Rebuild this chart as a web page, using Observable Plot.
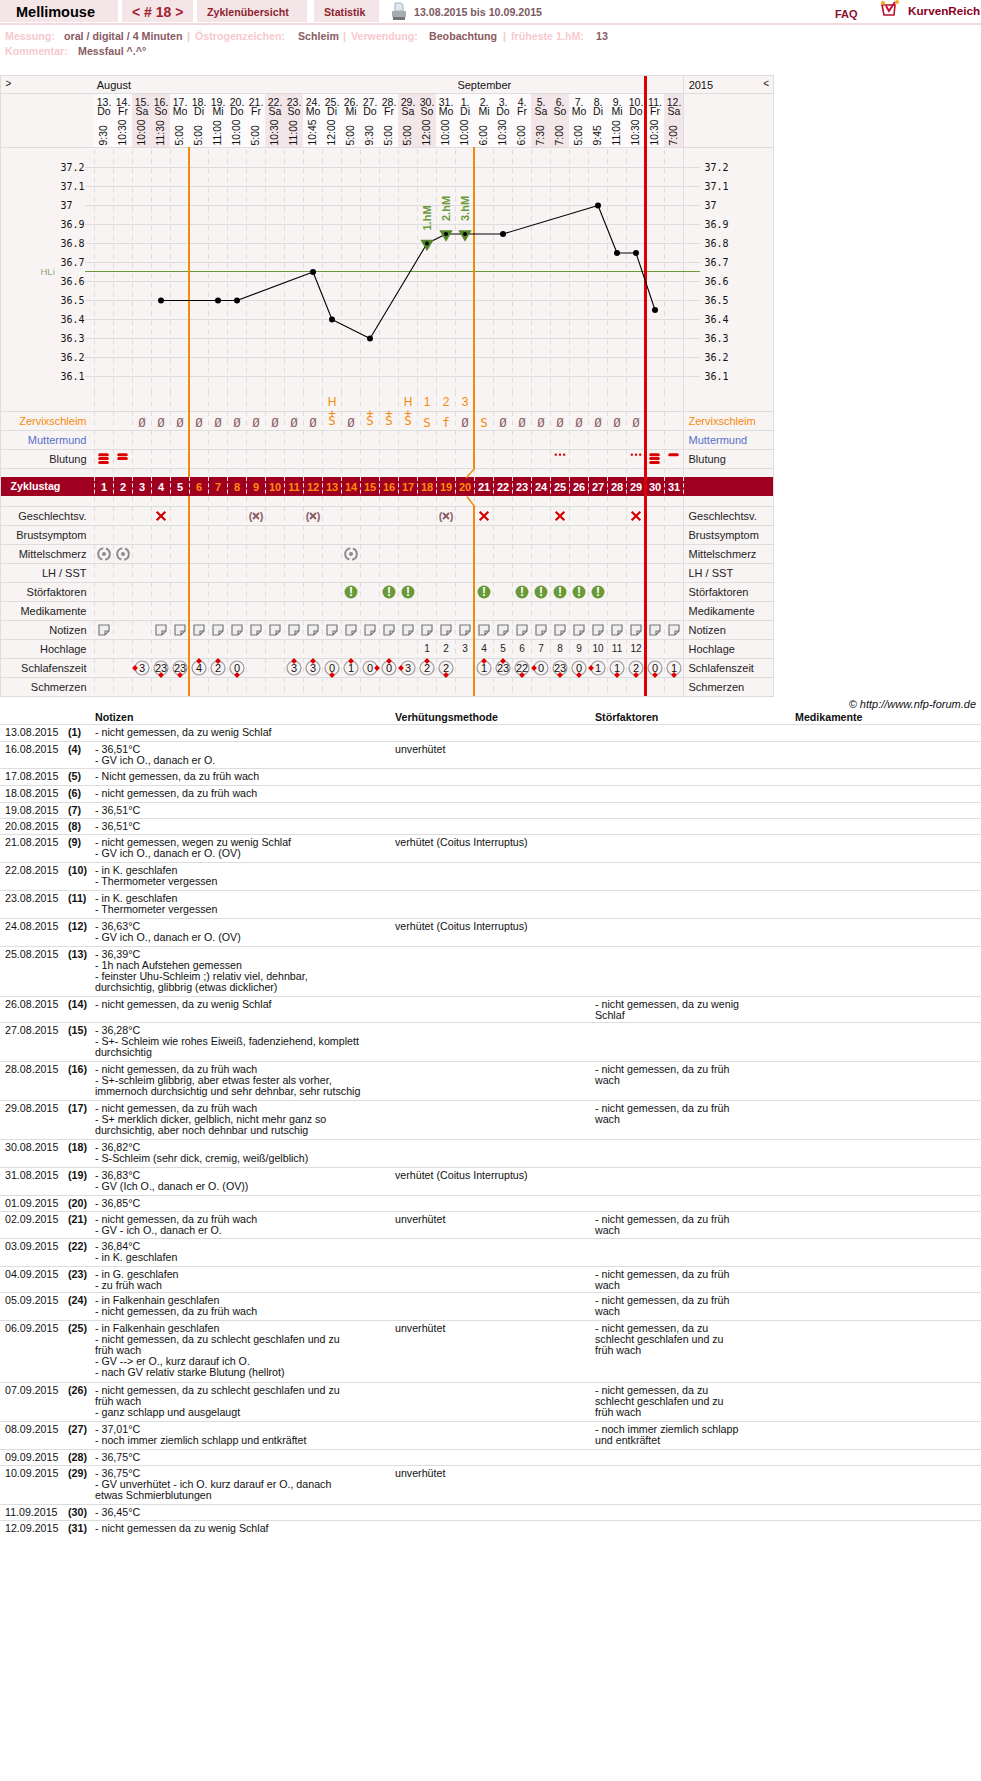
<!DOCTYPE html>
<html lang="de">
<head>
<meta charset="utf-8">
<title>Mellimouse Zyklus 18</title>
<script src="https://cdn.jsdelivr.net/npm/d3@7"></script>
<script src="https://cdn.jsdelivr.net/npm/@observablehq/plot@0.6"></script>
<style>
  html,body{margin:0;padding:0;background:#fff;}
  body{position:relative;width:981px;height:1781px;overflow:hidden;font-family:"Liberation Sans",Arial,sans-serif;font-size:10.67px;color:#111;}
  .abs{position:absolute;white-space:pre;}
  .tab{position:absolute;top:0;height:22px;background:#f4e6e8;}
  #chart{position:absolute;left:0;top:75px;width:774px;height:622px;}
  #chart svg{display:block;}
  #chart::after{content:"";position:absolute;inset:0;border:1px solid #ddd;box-sizing:border-box;pointer-events:none;}
  #chart g[aria-label="date number"] text,#chart g[aria-label="weekday"] text{letter-spacing:-.9px;}
  .row{position:absolute;left:0;width:981px;box-sizing:border-box;border-top:1px solid #ddd;}
  .cell{position:absolute;top:2px;white-space:pre;line-height:11px;}
  .lab{color:#f7c9cd;font-weight:bold;top:30px;}
  .val{color:#8a5a62;font-weight:bold;top:30px;}
</style>
</head>
<body>
<div class="tab" style="left:0;width:118px"></div>
<div class="tab" style="left:122px;width:71px"></div>
<div class="tab" style="left:197px;width:110px"></div>
<div class="tab" style="left:314px;width:65px"></div>
<div class="abs" style="left:0;top:23px;width:981px;height:2px;background:#f4d9dc"></div>
<div class="abs" style="left:16px;top:4px;font-weight:bold;font-size:14.5px;color:#000">Mellimouse</div>
<div class="abs" style="left:132px;top:4px;font-weight:bold;font-size:14px;color:#a3202f">&lt; # 18 &gt;</div>
<div class="abs" style="left:207px;top:6px;font-weight:bold;color:#8f1f30">Zyklenübersicht</div>
<div class="abs" style="left:324px;top:6px;font-weight:bold;color:#8f1f30">Statistik</div>
<svg class="abs" style="left:391px;top:2px" width="16" height="19" viewBox="0 0 16 19"><path d="M4 1h6l2 2v6H4z" fill="#dfe7f2" stroke="#8aa" stroke-width=".8"/><path d="M1 9h14v6H1z" fill="#a9adb2"/><path d="M2 15h12v3H2z" fill="#70757a"/></svg>
<div class="abs" style="left:414px;top:6px;font-weight:bold;color:#7d5a62">13.08.2015 bis 10.09.2015</div>
<div class="abs" style="left:835px;top:8px;font-weight:bold;font-size:11px;color:#8a1030">FAQ</div>
<svg class="abs" style="left:880px;top:0" width="20" height="18" viewBox="0 0 20 18"><path d="M2 5h13l-1 10H4z" fill="#fff" stroke="#b3122c" stroke-width="1.6"/><path d="M6 6l3 5 6-9" fill="none" stroke="#c8102e" stroke-width="2"/><circle cx="3" cy="3" r="2" fill="#f5a623"/><circle cx="17" cy="2" r="2" fill="#f5a623"/></svg>
<div class="abs" style="left:908px;top:4px;font-weight:bold;font-size:11.7px;color:#8a0020">KurvenReich</div>

<div class="abs lab" style="left:5px">Messung:</div><div class="abs val" style="left:64px">oral / digital / 4 Minuten</div>
<div class="abs lab" style="left:187px">|</div><div class="abs lab" style="left:195px">Östrogenzeichen:</div><div class="abs val" style="left:298px">Schleim</div>
<div class="abs lab" style="left:343px">|</div><div class="abs lab" style="left:351px">Verwendung:</div><div class="abs val" style="left:429px">Beobachtung</div>
<div class="abs lab" style="left:503px">|</div><div class="abs lab" style="left:511px">früheste 1.hM:</div><div class="abs val" style="left:596px">13</div>
<div class="abs lab" style="left:5px;top:45px">Kommentar:</div><div class="abs val" style="left:78px;top:45px">Messfaul ^.^°</div>

<div id="chart"></div>
<div class="abs" style="right:5px;top:698px;font-style:italic;font-size:11px;color:#111">© http://www.nfp-forum.de</div>
<div id="table"></div>

<script>
// ---------- chart data ----------
const dateNumbers = [13,14,15,16,17,18,19,20,21,22,23,24,25,26,27,28,29,30,31,1,2,3,4,5,6,7,8,9,10,11,12];
const weekdays = ["Do","Fr","Sa","So","Mo","Di","Mi","Do","Fr","Sa","So","Mo","Di","Mi","Do","Fr","Sa","So","Mo","Di","Mi","Do","Fr","Sa","So","Mo","Di","Mi","Do","Fr","Sa"];
const measureTimes = ["9:30","10:30","10:00","11:30","5:00","5:00","11:00","10:00","5:00","10:30","11:00","10:45","12:00","5:00","9:30","5:00","5:00","12:00","10:00","10:00","6:00","10:30","6:00","7:30","7:00","5:00","9:45","11:00","10:30","10:30","7:00"];
const cycleDays = dateNumbers.map((_, i) => i + 1);

const tempTicks = [37.2,37.1,37,36.9,36.8,36.7,36.6,36.5,36.4,36.3,36.2,36.1];
const tempDays   = [4,7,8,12,13,15,18,19,20,22,27,28,29,30];
const tempValues = [36.5,36.5,36.5,36.65,36.4,36.3,36.8,36.85,36.85,36.85,37,36.75,36.75,36.45];
const coverLine = 36.65;
const highDays = [18,19,20];
const highLabels = ["1.hM","2.hM","3.hM"];
const highTemps = [36.8,36.85,36.85];

const peakDays = [13,17,18,19,20];
const peakLabels = ["H","H","1","2","3"];
const mucusDays = [3,4,5,6,7,8,9,10,11,12,13,14,15,16,17,18,19,20,21,22,23,24,25,26,27,28,29];
const mucusCodes = ["Ø","Ø","Ø","Ø","Ø","Ø","Ø","Ø","Ø","Ø","S+","Ø","S+","S+","S+","S","f","Ø","S","Ø","Ø","Ø","Ø","Ø","Ø","Ø","Ø"];
const bleedDays = [1,2,30,31];
const bleedStripes = [3,2,3,1];
const spottingDays = [25,29];
const sexDays = [4,21,25,29];
const protectedSexDays = [9,12,19];
const painDays = [1,2,14];
const disturbanceDays = [14,16,17,21,23,24,25,26,27];
const noteDays = [1,4,5,6,7,8,9,10,11,12,13,14,15,16,17,18,19,20,21,22,23,24,25,26,27,28,29,30,31];
const highPhaseDays = [18,19,20,21,22,23,24,25,26,27,28,29];
const sleepDays =   [3,4,5,6,7,8,11,12,13,14,15,16,17,18,19,21,22,23,24,25,26,27,28,29,30,31];
const sleepHours =  [3,23,23,4,2,0,3,3,0,1,0,0,3,2,2,1,23,22,0,23,0,1,1,2,0,1];
const sleepMarker = ["l","b","b","t","t","b","t","t","b","t","r","t","l","t","b","t","t","b","l","b","b","l","b","b","b","b"];

const topRowLabels = ["Zervixschleim","Muttermund","Blutung"];
const bottomRowLabels = ["Geschlechtsv.","Brustsymptom","Mittelschmerz","LH / SST","Störfaktoren","Medikamente","Notizen","Hochlage","Schlafenszeit","Schmerzen"];
const firstPhaseEnd = 5.5, fertileEnd = 20.5, cycleEnd = 29.5;

// ---------- table data ----------
const tableDates = ["13.08.2015","16.08.2015","17.08.2015","18.08.2015","19.08.2015","20.08.2015","21.08.2015","22.08.2015","23.08.2015","24.08.2015","25.08.2015","26.08.2015","27.08.2015","28.08.2015","29.08.2015","30.08.2015","31.08.2015","01.09.2015","02.09.2015","03.09.2015","04.09.2015","05.09.2015","06.09.2015","07.09.2015","08.09.2015","09.09.2015","10.09.2015","11.09.2015","12.09.2015"];
const tableCycle = [1,4,5,6,7,8,9,10,11,12,13,14,15,16,17,18,19,20,21,22,23,24,25,26,27,28,29,30,31];
const tableNotes = [
 "- nicht gemessen, da zu wenig Schlaf",
 "- 36,51°C\n- GV ich O., danach er O.",
 "- Nicht gemessen, da zu früh wach",
 "- nicht gemessen, da zu früh wach",
 "- 36,51°C",
 "- 36,51°C",
 "- nicht gemessen, wegen zu wenig Schlaf\n- GV ich O., danach er O. (OV)",
 "- in K. geschlafen\n- Thermometer vergessen",
 "- in K. geschlafen\n- Thermometer vergessen",
 "- 36,63°C\n- GV ich O., danach er O. (OV)",
 "- 36,39°C\n- 1h nach Aufstehen gemessen\n- feinster Uhu-Schleim ;) relativ viel, dehnbar,\ndurchsichtig, glibbrig (etwas dicklicher)",
 "- nicht gemessen, da zu wenig Schlaf",
 "- 36,28°C\n- S+- Schleim wie rohes Eiweiß, fadenziehend, komplett\ndurchsichtig",
 "- nicht gemessen, da zu früh wach\n- S+-schleim glibbrig, aber etwas fester als vorher,\nimmernoch durchsichtig und sehr dehnbar, sehr rutschig",
 "- nicht gemessen, da zu früh wach\n- S+ merklich dicker, gelblich, nicht mehr ganz so\ndurchsichtig, aber noch dehnbar und rutschig",
 "- 36,82°C\n- S-Schleim (sehr dick, cremig, weiß/gelblich)",
 "- 36,83°C\n- GV (Ich O., danach er O. (OV))",
 "- 36,85°C",
 "- nicht gemessen, da zu früh wach\n- GV - ich O., danach er O.",
 "- 36,84°C\n- in K. geschlafen",
 "- in G. geschlafen\n- zu früh wach",
 "- in Falkenhain geschlafen\n- nicht gemessen, da zu früh wach",
 "- in Falkenhain geschlafen\n- nicht gemessen, da zu schlecht geschlafen und zu\nfrüh wach\n- GV --> er O., kurz darauf ich O.\n- nach GV relativ starke Blutung (hellrot)",
 "- nicht gemessen, da zu schlecht geschlafen und zu\nfrüh wach\n- ganz schlapp und ausgelaugt",
 "- 37,01°C\n- noch immer ziemlich schlapp und entkräftet",
 "- 36,75°C",
 "- 36,75°C\n- GV unverhütet - ich O. kurz darauf er O., danach\netwas Schmierblutungen",
 "- 36,45°C",
 "- nicht gemessen da zu wenig Schlaf"
];
const methodCI = "verhütet (Coitus Interruptus)", methodNone = "unverhütet";
const tableMethods = ["",methodNone,"","","","",methodCI,"","",methodCI,"","","","","","",methodCI,"",methodNone,"","","",methodNone,"","","",methodNone,"",""];
const earlyWake = "- nicht gemessen, da zu früh\nwach";
const badSleep = "- nicht gemessen, da zu\nschlecht geschlafen und zu\nfrüh wach";
const tableFactors = ["","","","","","","","","","","","- nicht gemessen, da zu wenig\nSchlaf","",earlyWake,earlyWake,"","","",earlyWake,"",earlyWake,earlyWake,badSleep,badSleep,"- noch immer ziemlich schlapp\nund entkräftet","","","",""];
const tableHeaders = ["Notizen","Verhütungsmethode","Störfaktoren","Medikamente"];
const tableRowHeights = [17,27,17,17,16,16,28,28,28,28,50,26,39,39,39,28,28,16,27,28,26,28,62,39,28,16,39,16,16];

// ---------- shared styling ----------
const panel = "#f9f4f4", gridCol = "#ddd", orange = "#f58a0a", red = "#dd0000", crimson = "#a00020",
      brown = "#8a5f66", green = "#6a9a38", sans = "Liberation Sans, Arial, sans-serif", mono = "DejaVu Sans Mono, monospace";
const xScale = {domain:[0.5,31.5], range:[94,683], axis:null};
const base = h => ({width:774, height:h, margin:0, x:xScale,
  style:{background:panel, fontFamily:sans, overflow:"visible"}});
const boundaries = d3.range(0.5, 31, 1);
const edgeL = -4.45, edgeR = 36.3;
const gridL = 0.03, gridR = 32.39;

// ---------- header ----------
const hY = {row1:10, rule:18, num:26.7, wd:36.3, time:70, bottom:72};
const weekendDays = cycleDays.filter((_, i) => weekdays[i]==="Sa" || weekdays[i]==="So");
const workDays = cycleDays.filter(d => !weekendDays.includes(d));
const headerPlot = Plot.plot({...base(72),
  y:{domain:[0,72], range:[0,72], axis:null},
  marks:[
    Plot.rect(workDays,{x1:d=>d-.5,x2:d=>d+.5,y1:hY.rule,y2:hY.bottom,fill:"#fcfafa"}),
    Plot.rect(weekendDays,{x1:d=>d-.5,x2:d=>d+.5,y1:hY.rule,y2:hY.bottom,fill:"#f3e6e8"}),
    Plot.ruleY([hY.rule],{x1:edgeL,x2:edgeR,stroke:gridCol}),
    Plot.ruleX([31.5],{y1:0,y2:72,stroke:gridCol}),
    Plot.ruleX([cycleEnd],{y1:0,y2:72,stroke:red,strokeWidth:3}),
    Plot.text(["August"],{x:0.62,y:hY.row1,text:d=>d,textAnchor:"start",fontSize:11,fill:"#111"}),
    Plot.text(["September"],{x:19.6,y:hY.row1,text:d=>d,textAnchor:"start",fontSize:11,fill:"#111"}),
    Plot.text(["2015"],{x:31.77,y:hY.row1,text:d=>d,textAnchor:"start",fontSize:11,fill:"#111"}),
    Plot.text([">"],{frameAnchor:"left",dx:5,y:hY.row1-2,text:d=>d,textAnchor:"start",fontSize:10,fill:"#111"}),
    Plot.text(["<"],{x:35.7,y:hY.row1-2,text:d=>d,textAnchor:"start",fontSize:10,fill:"#111"}),
    Plot.text(cycleDays,{x:d=>d,y:hY.num,text:d=>dateNumbers[d-1]+".",ariaLabel:"date number",fontSize:10.5,fill:"#111"}),
    Plot.text(cycleDays,{x:d=>d,y:hY.wd,text:d=>weekdays[d-1],ariaLabel:"weekday",fontSize:10.5,fill:"#111"}),
    Plot.text(cycleDays,{x:d=>d,y:hY.time,text:d=>measureTimes[d-1],rotate:-90,textAnchor:"start",fontSize:10.4,fill:"#111"})
  ]});

// ---------- temperature ----------
const temps = tempDays.map((d,i)=>({d,t:tempValues[i]}));
const highs = highDays.map((d,i)=>({d,t:highTemps[i],label:highLabels[i]}));
const tempHeight = 245;
const tempY = {domain:[36.1,37.2], range:[229,20], axis:null};
const tempTop = 37.2 + 20/190;
const tempPlot = Plot.plot({...base(tempHeight),
  y:tempY,
  marks:[
    Plot.ruleY([tempTop],{x1:edgeL,x2:edgeR,stroke:gridCol}),
    Plot.ruleX(boundaries,{y1:36.1-16/190,y2:tempTop,stroke:gridCol,strokeDasharray:"5 4.5"}),
    Plot.ruleX([31.5],{stroke:gridCol}),
    Plot.ruleY(tempTicks,{x1:gridL,x2:gridR,stroke:gridCol}),
    Plot.ruleY([coverLine],{x1:gridL,x2:gridR,stroke:green,dy:-.5}),
    Plot.ruleX([firstPhaseEnd,fertileEnd],{stroke:orange,strokeWidth:2,dx:-.5}),
    Plot.ruleX([cycleEnd],{stroke:red,strokeWidth:3}),
    Plot.text(tempTicks,{y:d=>d,text:d=>String(d),frameAnchor:"left",textAnchor:"start",dx:60,fontFamily:mono,fontSize:10,fill:"#111"}),
    Plot.text(tempTicks,{y:d=>d,text:d=>String(d),frameAnchor:"left",textAnchor:"start",dx:704,fontFamily:mono,fontSize:10,fill:"#111"}),
    Plot.text(["HLi"],{y:coverLine,text:d=>d,frameAnchor:"left",textAnchor:"start",dx:40,fontSize:9.5,fill:"#8fa878"}),
    Plot.line(temps,{x:"d",y:"t",stroke:"#000",strokeWidth:1.1}),
    Plot.dot(highs,{x:"d",y:"t",symbol:"triangle",rotate:180,r:4,fill:"#55872a",stroke:"#55872a"}),
    Plot.dot(temps.filter(p=>!highDays.includes(p.d)),{x:"d",y:"t",r:3,fill:"#000"}),
    Plot.dot(highs,{x:"d",y:"t",r:2,fill:"#000"}),
    Plot.text(highs,{x:"d",y:"t",text:"label",rotate:-90,textAnchor:"start",dy:-13,fontSize:11,fontWeight:"bold",fill:green})
  ]});

// ---------- symbol rows ----------
const rowOf = {peak:0,mucus:1,cervix:2,bleed:3,sex:6,breast:7,pain:8,lh:9,dist:10,med:11,note:12,high:13,sleep:14,ache:15};
const mid = k => k + .5;
const barTop = 4.474, barBottom = 5.474;
const noteSymbol = {draw(c){c.moveTo(-5,-5);c.lineTo(5,-5);c.lineTo(5,1);c.lineTo(1,5);c.lineTo(-5,5);c.closePath();c.moveTo(5,1);c.lineTo(1,1);c.lineTo(1,5);}};
const peaks = peakDays.map((d,i)=>({d,s:peakLabels[i]}));
const mucus = mucusDays.map((d,i)=>({d,s:mucusCodes[i]}));
const stripes = bleedDays.flatMap((d,i)=>d3.range(bleedStripes[i]).map(k=>({d,k})));
const spots = spottingDays.flatMap(d=>[-.22,0,.22].map(o=>({d:d+o})));
const sleep = sleepDays.map((d,i)=>({d,h:sleepHours[i],m:sleepMarker[i]}));
const leftLabels = [...topRowLabels.map((s,i)=>({s,k:1+i})),...bottomRowLabels.map((s,i)=>({s,k:6+i}))];
const labelFill = s => s==="Zervixschleim" ? orange : s==="Muttermund" ? "#5570c8" : "#222";
const sleepDir = {l:[-7,0],r:[7,0],t:[0,-7],b:[0,7]};
const rowsPlot = Plot.plot({...base(304),
  y:{domain:[0,16], range:[0,304], axis:null},
  marks:[
    Plot.ruleX(boundaries,{y1:0,y2:16,stroke:gridCol,strokeDasharray:"5 4.5"}),
    Plot.ruleX([31.5],{y1:0,y2:16,stroke:gridCol}),
    Plot.ruleY([1,2,3,4,6,7,8,9,10,11,12,13,14,15],{x1:edgeL,x2:edgeR,stroke:gridCol}),
    // cycle-day band
    Plot.rect([0],{x1:edgeL,x2:edgeR-.06,y1:barTop,y2:barBottom,fill:crimson}),
    Plot.ruleX(boundaries.concat([31.5]),{y1:barTop,y2:barBottom,stroke:"#f3e6e8",strokeDasharray:"4 2.3"}),
    // phase lines
    Plot.ruleX([firstPhaseEnd],{y1:0,y2:barTop,stroke:orange,strokeWidth:2,dx:-.5}),
    Plot.ruleX([firstPhaseEnd],{y1:barBottom,y2:16,stroke:orange,strokeWidth:2,dx:-.5}),
    Plot.ruleX([fertileEnd],{y1:0,y2:4,stroke:orange,strokeWidth:2,dx:-.5}),
    Plot.ruleX([fertileEnd],{y1:6,y2:16,stroke:orange,strokeWidth:2,dx:-.5}),
    Plot.line([{d:fertileEnd,y:4},{d:fertileEnd-.42,y:barTop}],{x:"d",y:"y",stroke:orange,strokeWidth:1.5}),
    Plot.line([{d:fertileEnd-.38,y:barBottom+.03},{d:fertileEnd,y:6}],{x:"d",y:"y",stroke:orange,strokeWidth:1.5}),
    Plot.ruleX([cycleEnd],{y1:0,y2:16,stroke:red,strokeWidth:3}),
    // row labels
    Plot.text(leftLabels,{y:d=>mid(d.k),text:"s",frameAnchor:"left",textAnchor:"end",dx:86,fontSize:11,fill:d=>labelFill(d.s)}),
    Plot.text(leftLabels,{y:d=>mid(d.k),text:"s",frameAnchor:"left",textAnchor:"start",dx:688,fontSize:11,fill:d=>labelFill(d.s)}),
    // peak row
    Plot.text(peaks,{x:"d",y:mid(rowOf.peak),text:"s",fontSize:12,fill:orange}),
    // mucus row
    Plot.text(mucus.filter(m=>m.s!=="S+"),{x:"d",y:mid(rowOf.mucus),dy:1.5,text:d=>d.s,fontFamily:mono,fontSize:12.5,fill:d=>d.s==="Ø"?brown:orange}),
    Plot.text(mucus.filter(m=>m.s==="S+"),{x:"d",y:mid(rowOf.mucus),dy:-2,text:()=>"+\nS",lineHeight:.56,fontFamily:mono,fontSize:12.5,fill:orange}),
    // bleeding
    Plot.ruleY(stripes,{y:d=>3.28+d.k*.2,x1:d=>d.d-.2,x2:d=>d.d+.2,stroke:red,strokeWidth:3,strokeLinecap:"round"}),
    Plot.dot(spots,{x:"d",y:3.27,r:1.2,fill:red}),
    // band numbers
    Plot.text(["Zyklustag"],{frameAnchor:"left",dx:10,y:(barTop+barBottom)/2,text:d=>d,textAnchor:"start",fontSize:10.7,fontWeight:"bold",fill:"#fff"}),
    Plot.text(cycleDays,{x:d=>d,y:(barTop+barBottom)/2,text:d=>String(d),fontSize:11,fontWeight:"bold",fill:d=>d>=6&&d<=20?"#ff8c0a":"#fff"}),
    // intercourse
    Plot.dot(sexDays,{x:d=>d,y:mid(rowOf.sex),symbol:"times",r:4,stroke:"#d40000",strokeWidth:2.2}),
    Plot.dot(protectedSexDays,{x:d=>d,y:mid(rowOf.sex),symbol:"times",r:2.8,stroke:brown,strokeWidth:2}),
    Plot.text(protectedSexDays,{x:d=>d,y:mid(rowOf.sex),text:()=>"(",dx:-5.5,fontSize:11,fontWeight:"bold",fill:brown}),
    Plot.text(protectedSexDays,{x:d=>d,y:mid(rowOf.sex),text:()=>")",dx:5.5,fontSize:11,fontWeight:"bold",fill:brown}),
    // middle pain
    Plot.dot(painDays,{x:d=>d,y:mid(rowOf.pain),r:5.8,fill:"none",stroke:"#8c8c8c",strokeWidth:2,strokeDasharray:"15.4 2.8",strokeDashoffset:7.7}),
    Plot.dot(painDays,{x:d=>d,y:mid(rowOf.pain),r:2,fill:"#8c8c8c"}),
    // disturbances
    Plot.dot(disturbanceDays,{x:d=>d,y:mid(rowOf.dist),r:6.5,fill:green}),
    Plot.text(disturbanceDays,{x:d=>d,y:mid(rowOf.dist),text:()=>"!",fontSize:12,fontWeight:"bold",fill:"#fff"}),
    // notes
    Plot.dot(noteDays,{x:d=>d,y:mid(rowOf.note),symbol:noteSymbol,r:5,fill:"#efefef",stroke:"#777",strokeWidth:1.2}),
    // high phase
    Plot.text(highPhaseDays,{x:d=>d,y:mid(rowOf.high),text:(d,i)=>String(i+1),fontSize:10,fill:"#222"}),
    // sleep
    Plot.dot(sleep,{x:"d",y:mid(rowOf.sleep),r:7,fill:panel,stroke:"#999",strokeWidth:1.2}),
    Plot.text(sleep,{x:"d",y:mid(rowOf.sleep),text:d=>String(d.h),fontSize:11,fill:"#111"}),
    ...Object.entries(sleepDir).map(([k,[dx,dy]])=>Plot.dot(sleep.filter(s=>s.m===k),{x:"d",y:mid(rowOf.sleep),dx,dy,symbol:"diamond2",r:2.6,fill:red}))
  ]});

document.getElementById("chart").append(headerPlot,tempPlot,rowsPlot);

// ---------- notes table ----------
const tableEl = document.getElementById("table");
const colX = [95,395,595,795];
tableHeaders.forEach((h,i)=>{
  const e=document.createElement("div");
  e.className="abs"; e.style.cssText=`left:${colX[i]}px;top:711px;font-weight:bold;`; e.textContent=h;
  tableEl.append(e);
});
let rowTop = 724;
tableDates.forEach((date,i)=>{
  const row=document.createElement("div");
  row.className="row"; row.style.top=rowTop+"px"; row.style.height=tableRowHeights[i]+"px";
  const cells=[[5,date,false],[68,`(${tableCycle[i]})`,true],[95,tableNotes[i],false],[395,tableMethods[i],false],[595,tableFactors[i],false]];
  cells.forEach(([x,t,b])=>{ if(!t) return;
    const c=document.createElement("div"); c.className="cell"; c.style.left=x+"px";
    if(b) c.style.fontWeight="bold"; c.textContent=t; row.append(c);
  });
  tableEl.append(row);
  rowTop+=tableRowHeights[i];
});
</script>
</body>
</html>
